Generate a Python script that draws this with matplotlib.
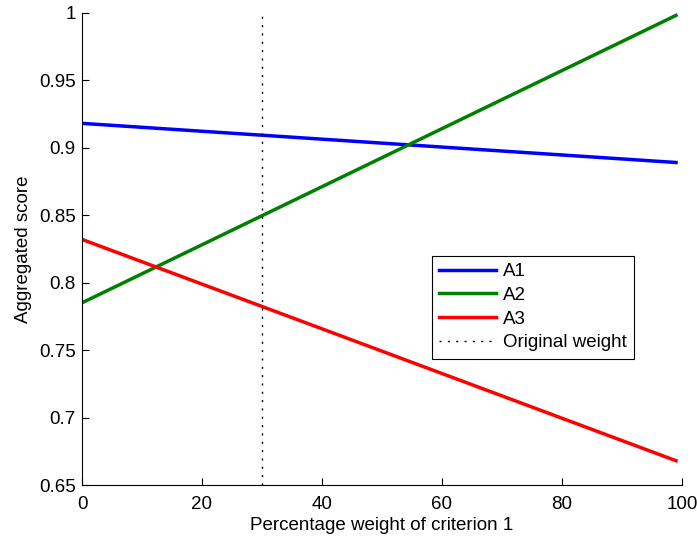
import matplotlib
matplotlib.use('Agg')
import matplotlib.pyplot as plt
import numpy as np

plt.rcParams['font.family'] = ['Liberation Sans', 'DejaVu Sans']

# weight of criterion 1 (%) and aggregated scores at the ends of each line
weights = [0, 99]
a1 = [0.918, 0.889]
a2 = [0.785, 0.998]
a3 = [0.832, 0.668]
original_weight = 30

fig = plt.figure(figsize=(6.97, 5.38), dpi=100)
ax = fig.add_axes([82 / 697, 53 / 538, 600 / 697, 472.3 / 538])

ax.plot(weights, a1, color='#0000ff', linewidth=2.5, label='A1')
ax.plot(weights, a2, color='#008000', linewidth=2.5, label='A2')
ax.plot(weights, a3, color='#ff0000', linewidth=2.5, label='A3')
ax.plot([original_weight, original_weight], [0.65, 1.0], color='black',
        linewidth=1, linestyle=(0, (1.5, 4.5)), label='Original weight')

ax.set_xlim(0, 100)
ax.set_ylim(0.65, 1.0)
ax.set_xticks(np.arange(0, 101, 20))
ax.set_yticks(np.arange(0.65, 1.0001, 0.05))
ax.set_yticklabels(['0.65', '0.7', '0.75', '0.8', '0.85', '0.9', '0.95', '1'])

ax.spines['top'].set_visible(False)
ax.spines['right'].set_visible(False)
ax.tick_params(direction='in', length=5, width=0.8, labelsize=13.5)
ax.tick_params(axis='x', pad=8)
ax.tick_params(axis='y', pad=4.5)

ax.set_xlabel('Percentage weight of criterion 1', fontsize=13.5, labelpad=3)
ax.set_ylabel('Aggregated score', fontsize=13.5, labelpad=5)

leg = ax.legend(loc='lower left', bbox_to_anchor=(0.583, 0.267), fontsize=13.5,
                handlelength=3.0, handletextpad=0.4, labelspacing=0.35,
                borderpad=0.4, borderaxespad=0, fancybox=False, framealpha=1)
leg.get_frame().set_edgecolor('black')
leg.get_frame().set_linewidth(0.8)

plt.savefig('out.png', dpi=100, facecolor='white')
plt.close(fig)
